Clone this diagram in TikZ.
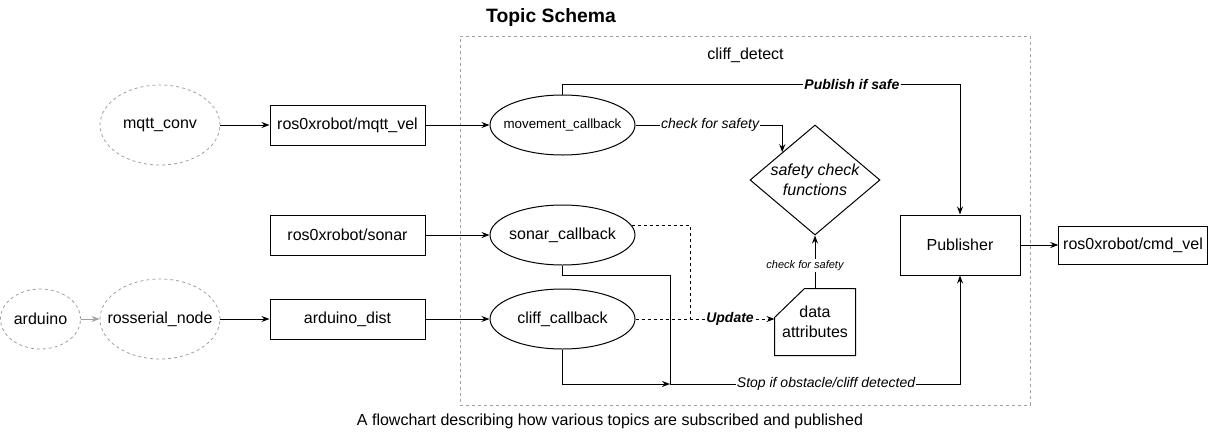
\documentclass[tikz,border=0pt]{standalone}
\usepackage{fontspec}
\setmainfont{Liberation Sans}
\usetikzlibrary{shapes.geometric, arrows.meta}

\begin{document}
\begin{tikzpicture}[x=0.75pt, y=-0.75pt, >={Stealth[length=6pt, width=4.5pt]}, line width=0.75pt,
		font=\fontsize{12}{15}\selectfont,
		topic/.style={draw, minimum width=116.25pt, minimum height=30pt, inner sep=2pt},
		callback/.style={draw, ellipse, minimum width=108.75pt, minimum height=45pt},
		extnode/.style={draw=boxgray, dashline, ellipse, line width=0.6pt},
		dashline/.style={dash pattern=on 2.25pt off 2.25pt},
		lbl/.style={fill=white, inner sep=1pt, font=\fontsize{10.5}{12}\selectfont\itshape}]
			\definecolor{boxgray}{RGB}{160,160,160}
			\useasboundingbox (0,0) rectangle (1216,436);
			% cliff_detect container
			\node[draw=boxgray, dashline, line width=0.5pt, minimum width=427.5pt, minimum height=276.75pt] (detect) at (745,220.5) {};
			\node (detectlbl) at (745.5,55) {cliff\_detect};
			\node[font=\fontsize{14.5}{16}\selectfont\bfseries] (title) at (551,17) {Topic Schema};
			\node (caption) at (610,421) {A flowchart describing how various topics are subscribed and published};
			% outside nodes
			\node[extnode, minimum width=90pt, minimum height=60pt, label=center:mqtt\_conv] (mqtt) at (160,125) {};
			\node[extnode, minimum width=60pt, minimum height=45pt, label=center:arduino] (arduino) at (40.5,319) {};
			\node[extnode, minimum width=90pt, minimum height=60pt, label=center:rosserial\_node] (rosserial) at (160,319) {};
			\node[topic] (mqttvel) at (347.5,125) {ros0xrobot/mqtt\_vel};
			\node[topic] (sonar) at (347.5,235) {ros0xrobot/sonar};
			\node[topic] (ardist) at (347.5,319) {arduino\_dist};
			% callbacks and checks
			\node[callback, label={[font=\fontsize{10}{12}\selectfont]center:movement\_callback}] (move) at (562.5,125) {};
			\node[callback, label=center:sonar\_callback] (sonarcb) at (562.5,235) {};
			\node[callback, label=center:cliff\_callback] (cliffcb) at (562.5,319) {};
			\node[draw, diamond, minimum width=97.5pt, minimum height=82.5pt,
				label={[align=center, font=\fontsize{12}{15}\selectfont\itshape]center:safety check\\functions}] (safety) at (815,180) {};
			\node[minimum width=60pt, minimum height=49.5pt, align=center] (data) at (815,322) {data\\attributes};
			\draw (data.south west) -- (data.south east) -- (data.north east) -- ([xshift=22.5pt]data.north west)
				-- ([yshift=-21.75pt]data.north west) -- cycle;
			\node[draw, minimum width=90pt, minimum height=45pt] (pub) at (960,245) {Publisher};
			\node[draw, minimum width=110.25pt, minimum height=28.5pt] (cmdvel) at (1133,245) {ros0xrobot/cmd\_vel};
			% connectors
			\draw[->] (mqtt) -- (mqttvel);
			\draw[->] (mqttvel) -- (move);
			\draw[->] (sonar) -- (sonarcb);
			\draw[->] (ardist) -- (cliffcb);
			\draw[->, boxgray] (arduino) -- (rosserial);
			\draw[->] (rosserial) -- (ardist);
			\draw[->] (pub) -- (cmdvel);
			\draw[->] (move.north) -- ++(0,-10) -| node[lbl, pos=0.364] {\bfseries Publish if safe} (pub.north);
			\draw[->] (move.east) -| node[lbl, pos=0.254] {check for safety} (safety.north west);
			\draw[->] (data.north) -- node[lbl, pos=0.44, xshift=-7.5pt, font=\fontsize{8.25}{10}\selectfont\itshape] {check for safety} (safety.south);
			\coordinate (updjoin) at (690,319);
			\draw[dashline] (sonarcb.8) -| (updjoin);
			\draw[dashline, ->] (cliffcb.east) -- node[lbl, pos=0.68] {\bfseries Update} (cliffcb.east -| data.west);
			\coordinate (stopjoin) at (670,384);
			\draw (sonarcb.south) -- ++(0,10) -| (stopjoin);
			\draw[->] (cliffcb.south) |- (stopjoin);
			\draw[->] (stopjoin) -| node[lbl, pos=0.269] {Stop if obstacle/cliff detected} (pub.south);
		\end{tikzpicture}
\end{document}
